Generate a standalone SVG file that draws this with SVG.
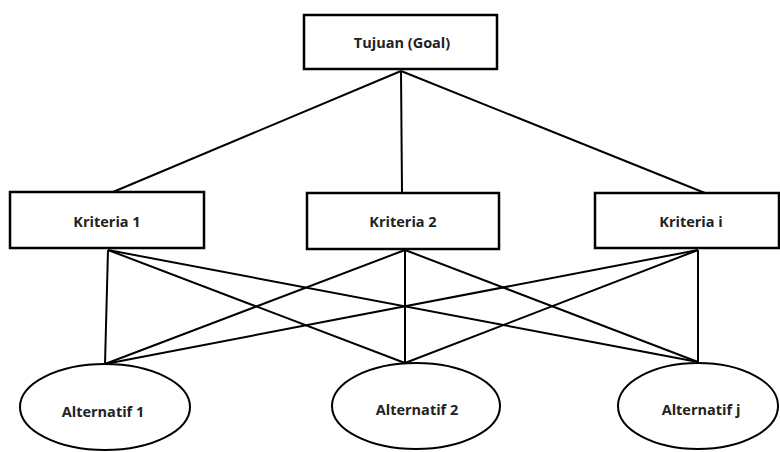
<svg xmlns="http://www.w3.org/2000/svg" width="780" height="452" viewBox="0 0 780 452">
<style>
.box{fill:#fff;stroke:#000;stroke-width:2.5}
.ell{fill:#fff;stroke:#000;stroke-width:2}
.lbl{font-family:"Open Sans","Liberation Sans",sans-serif;font-size:14.5px;font-weight:bold;fill:#222;text-anchor:middle;dominant-baseline:central}
.con line{stroke:#000;stroke-width:2}
</style>
<rect width="780" height="452" fill="#fff"/>
<g id="connectors" class="con">
<line x1="401" y1="71" x2="113" y2="192"/>
<line x1="401" y1="71" x2="402" y2="193"/>
<line x1="401" y1="71" x2="705" y2="193"/>
<line x1="108" y1="250" x2="105" y2="364"/>
<line x1="108" y1="250" x2="405" y2="363"/>
<line x1="108" y1="250" x2="698" y2="362"/>
<line x1="405" y1="250" x2="105" y2="364"/>
<line x1="405" y1="250" x2="405" y2="363"/>
<line x1="405" y1="250" x2="698" y2="362"/>
<line x1="698" y1="250" x2="105" y2="364"/>
<line x1="698" y1="250" x2="405" y2="363"/>
<line x1="698" y1="250" x2="698" y2="362"/>
</g>
<g id="goal"><rect class="box" x="304" y="15" width="193" height="54"/><text class="lbl" x="402" y="42">Tujuan (Goal)</text></g>
<g id="k1"><rect class="box" x="10" y="192" width="194" height="56"/><text class="lbl" x="107" y="221">Kriteria 1</text></g>
<g id="k2"><rect class="box" x="307" y="193" width="192" height="56"/><text class="lbl" x="403" y="221">Kriteria 2</text></g>
<g id="ki"><rect class="box" x="595" y="193" width="184" height="55"/><text class="lbl" x="691" y="221">Kriteria i</text></g>
<g id="a1"><ellipse class="ell" cx="105" cy="407" rx="85" ry="43"/><text class="lbl" x="103" y="411">Alternatif 1</text></g>
<g id="a2"><ellipse class="ell" cx="416" cy="406" rx="84" ry="43"/><text class="lbl" x="417" y="409">Alternatif 2</text></g>
<g id="aj"><ellipse class="ell" cx="698" cy="406" rx="80" ry="43"/><text class="lbl" x="701" y="409">Alternatif j</text></g>
</svg>
